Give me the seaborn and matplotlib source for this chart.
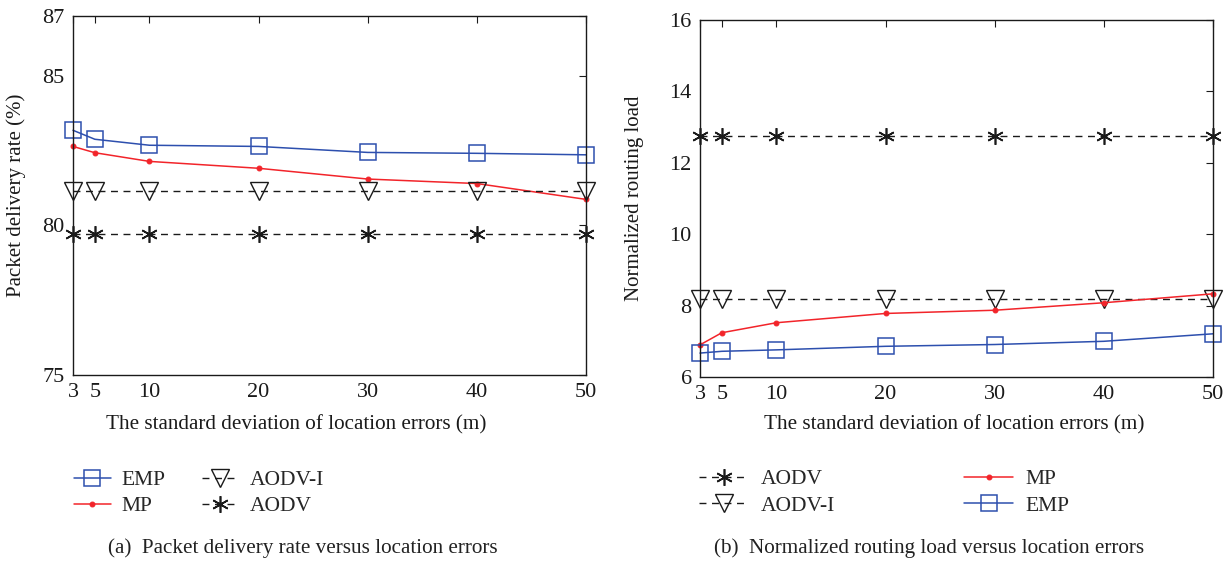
import matplotlib
matplotlib.use("Agg")
import matplotlib.pyplot as plt
import seaborn as sns
import pandas as pd

sns.set_theme(style="white")
plt.rcParams['font.family'] = ['Liberation Serif', 'DejaVu Serif']

x_vals = [3, 5, 10, 20, 30, 40, 50]

# (a) Packet delivery rate (%)
pdr_emp = [83.18, 82.88, 82.68, 82.64, 82.44, 82.41, 82.36]
pdr_mp = [82.64, 82.43, 82.14, 81.91, 81.55, 81.40, 80.87]
pdr_aodvi = [81.14, 81.14, 81.14, 81.14, 81.14, 81.14, 81.14]
pdr_aodv = [79.71, 79.71, 79.71, 79.71, 79.71, 79.71, 79.71]

# (b) Normalized routing load
nrl_aodv = [12.74, 12.74, 12.74, 12.74, 12.74, 12.74, 12.74]
nrl_aodvi = [8.18, 8.18, 8.18, 8.18, 8.18, 8.18, 8.18]
nrl_mp = [6.90, 7.24, 7.52, 7.78, 7.87, 8.08, 8.33]
nrl_emp = [6.67, 6.72, 6.76, 6.86, 6.91, 7.00, 7.21]

yticks_a = [75, 80, 85, 87]
yticks_b = [6, 8, 10, 12, 14, 16]

BLUE = '#2d4fae'
RED = '#f2242a'
BLACK = '#1a1a1a'
ASTER = (6, 2, 0)

styles = {
    'EMP': dict(color=BLUE, marker='s', markersize=11, markerfacecolor='none',
                markeredgecolor=BLUE, markeredgewidth=1.1, linestyle='-', linewidth=1.1),
    'MP': dict(color=RED, marker='o', markersize=3.5, markerfacecolor=RED,
               markeredgecolor=RED, linestyle='-', linewidth=1.1),
    'AODV-I': dict(color=BLACK, marker='v', markersize=13, markerfacecolor='none',
                   markeredgecolor=BLACK, markeredgewidth=1.0, linestyle=(0, (5, 4)), linewidth=1.0),
    'AODV': dict(color=BLACK, marker=ASTER, markersize=12, markeredgecolor=BLACK,
                 markeredgewidth=1.2, linestyle=(0, (5, 4)), linewidth=1.0),
}

fig = plt.figure(figsize=(12.28, 5.61), dpi=100)
ax1 = fig.add_axes([73/1228, 1-375/561, 513/1228, 359/561])
ax2 = fig.add_axes([700/1228, 1-377/561, 513/1228, 357/561])

def draw(ax, series):
    for name, vals in series:
        df = pd.DataFrame({'x': x_vals, 'y': vals})
        sns.lineplot(data=df, x='x', y='y', ax=ax, label=name, **styles[name])

draw(ax1, [('EMP', pdr_emp), ('MP', pdr_mp), ('AODV-I', pdr_aodvi), ('AODV', pdr_aodv)])
draw(ax2, [('AODV', nrl_aodv), ('AODV-I', nrl_aodvi), ('MP', nrl_mp), ('EMP', nrl_emp)])

XL = 'The standard deviation of location errors (m)'
for ax, yt, yl, xl_cx, yl_cx, ax_left, ax_bot, ax_h in [
        (ax1, yticks_a, 'Packet delivery rate (%)', 296, 16, 73, 375, 359),
        (ax2, yticks_b, 'Normalized routing load', 954, 634, 700, 377, 357)]:
    ax.set_xlim(3, 50)
    ax.set_ylim(yt[0], yt[-1])
    ax.set_xticks(x_vals)
    ax.set_yticks(yt)
    ax.tick_params(direction='in', top=True, right=True, length=5, width=0.8,
                   labelsize=16, colors=BLACK, pad=6)
    ax.tick_params(axis='x', pad=6)
    for s in ax.spines.values():
        s.set_visible(True)
        s.set_color(BLACK)
        s.set_linewidth(1.0)
        s.set_zorder(5)
    ax.set_xlabel(XL, fontsize=15.2, color=BLACK, va='center')
    ax.set_ylabel(yl, fontsize=15, color=BLACK, va='center')
    ax.xaxis.set_label_coords((xl_cx - ax_left) / 513, (ax_bot - 425) / ax_h)
    ax.yaxis.set_label_coords((yl_cx - ax_left) / 513, 0.5)
    for ln in ax.get_lines():
        ln.set_clip_on(False)
    ax.get_legend().remove()

h1, l1 = ax1.get_legend_handles_labels()
fig.legend(h1, l1, loc='upper left', bbox_to_anchor=(74/1228, 1-470/561), ncol=2,
           frameon=False, fontsize=15.5, handlelength=1.7, columnspacing=1.7,
           labelspacing=0.28, handletextpad=0.5, borderpad=0, borderaxespad=0)
h2, l2 = ax2.get_legend_handles_labels()
fig.legend(h2, l2, loc='upper left', bbox_to_anchor=(699/1228, 1-469/561), ncol=2,
           frameon=False, fontsize=15.5, handlelength=2.3, columnspacing=6.0,
           labelspacing=0.3, handletextpad=0.55, borderpad=0, borderaxespad=0)

fig.text(303/1228, 1-548/561, '(a)  Packet delivery rate versus location errors',
         ha='center', va='center', fontsize=15.2, color='#222222')
fig.text(929/1228, 1-548/561, '(b)  Normalized routing load versus location errors',
         ha='center', va='center', fontsize=15.2, color='#222222')

fig.savefig('out.png', dpi=100, facecolor='white')
